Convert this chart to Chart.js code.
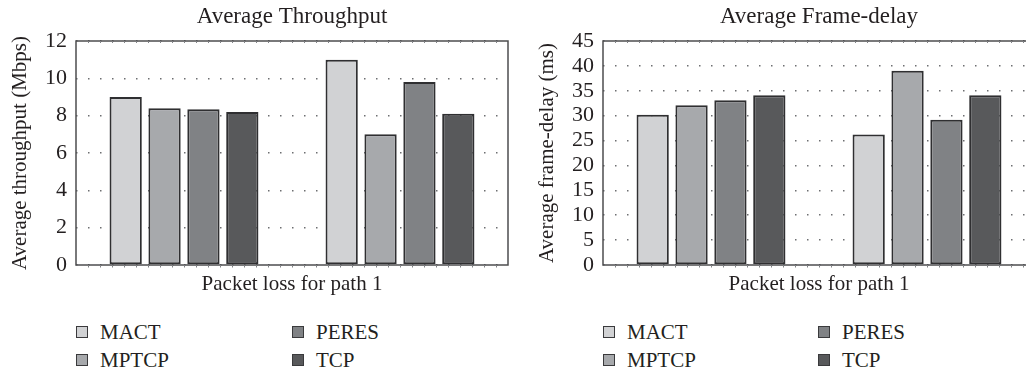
<!DOCTYPE html>
<html lang="en">
<head>
  <meta charset="UTF-8">
  <title>Throughput and frame-delay</title>
  <script src="https://cdn.jsdelivr.net/npm/chart.js"></script>
  <style>
    body {
      margin: 0;
      width: 1026px;
      height: 372px;
      overflow: hidden;
      background: #fff;
      position: relative;
      font-family: "Liberation Serif", "DejaVu Serif", serif;
      color: #231f20;
    }
    canvas {
      position: absolute;
      top: 0;
    }
    #throughputChart { left: 0; }
    #delayChart { left: 520px; }
    .legend-item {
      position: absolute;
      display: flex;
      align-items: center;
      height: 22px;
      font-size: 21px;
      white-space: nowrap;
    }
    .legend-box {
      width: 10px;
      height: 10px;
      border: 1.5px solid #3a3a3c;
      margin-right: 12px;
    }
  </style>
</head>
<body>
  <canvas id="throughputChart" width="520" height="300"></canvas>
  <canvas id="delayChart" width="527" height="300"></canvas>
  <div id="legends"></div>

  <script>
    // two groups along the x axis, no tick labels shown in the original
    const groups = ['', ''];
    const protocols = ['MACT', 'MPTCP', 'PERES', 'TCP'];
    const fills = ['#d1d2d4', '#a7a9ac', '#808285', '#58595b'];

    // Average throughput (Mbps)
    const throughputMACT = [9.0, 11.0];
    const throughputMPTCP = [8.4, 7.0];
    const throughputPERES = [8.35, 9.8];
    const throughputTCP = [8.2, 8.1];

    // Average frame-delay (ms)
    const delayMACT = [30.2, 26.2];
    const delayMPTCP = [32.1, 39.0];
    const delayPERES = [33.1, 29.2];
    const delayTCP = [34.1, 34.1];

    const FONT = '"Liberation Serif", "DejaVu Serif", serif';
    const INK = '#231f20';

    // box round the plot area, drawn over the bars, with small marks on top/bottom edges
    const frame = {
      id: 'frame',
      afterDatasetsDraw(chart) {
        const a = chart.chartArea;
        const ctx = chart.ctx;
        ctx.save();
        ctx.strokeStyle = '#4d4d4f';
        ctx.lineWidth = 1.5;
        ctx.strokeRect(a.left, a.top, a.right - a.left, a.bottom - a.top);
        ctx.lineWidth = 1;
        ctx.strokeStyle = '#808285';
        ctx.beginPath();
        for (let x = a.left + 12; x < a.right; x += 12) {
          ctx.moveTo(x + 0.5, a.bottom);
          ctx.lineTo(x + 0.5, a.bottom + 2.5);
          ctx.moveTo(x + 0.5, a.top);
          ctx.lineTo(x + 0.5, a.top + 2);
        }
        ctx.stroke();
        ctx.restore();
      }
    };

    function makeChart(id, cfg) {
      const datasets = cfg.series.map((data, i) => ({
        label: protocols[i],
        data,
        backgroundColor: fills[i],
        borderColor: '#2f2f31',
        borderWidth: 2,
        borderSkipped: false,
        categoryPercentage: 0.72,
        barPercentage: 0.83
      }));

      return new Chart(document.getElementById(id), {
        type: 'bar',
        data: { labels: groups, datasets },
        options: {
          responsive: false,
          animation: false,
          devicePixelRatio: 1,
          layout: { padding: { left: 0, right: 12, top: 0, bottom: 0 } },
          plugins: {
            legend: { display: false },
            tooltip: { enabled: false },
            title: {
              display: true,
              text: cfg.title,
              fullSize: false,
              color: INK,
              font: { family: FONT, size: 23, weight: 'normal' },
              padding: { top: 3, bottom: 10.4 }
            }
          },
          scales: {
            x: {
              grid: { display: false, drawTicks: false },
              border: { display: false },
              ticks: { display: false },
              title: {
                display: true,
                text: 'Packet loss for path 1',
                color: INK,
                font: { family: FONT, size: 21 },
                padding: { top: 0, bottom: 2.5 }
              },
              afterFit(scale) { scale.height = 35; }
            },
            y: {
              min: 0,
              max: cfg.max,
              ticks: {
                stepSize: cfg.step,
                autoSkip: false,
                color: INK,
                padding: 9,
                font: { family: FONT, size: 22 }
              },
              grid: {
                color: '#6d6e71',
                lineWidth: 1.5,
                drawTicks: false
              },
              border: { display: false, dash: [1.5, 10.5] },
              title: {
                display: true,
                text: cfg.yTitle,
                color: INK,
                font: { family: FONT, size: 21 },
                padding: { top: cfg.yTitlePad, bottom: 0 }
              },
              afterFit(scale) { scale.width = cfg.yWidth; }
            }
          }
        },
        plugins: [frame]
      });
    }

    makeChart('throughputChart', {
      title: 'Average Throughput',
      yTitle: 'Average throughput (Mbps)',
      series: [throughputMACT, throughputMPTCP, throughputPERES, throughputTCP],
      max: 12, step: 2, yWidth: 76, yTitlePad: 7.4
    });

    makeChart('delayChart', {
      title: 'Average Frame-delay',
      yTitle: 'Average frame-delay (ms)',
      series: [delayMACT, delayMPTCP, delayPERES, delayTCP],
      max: 45, step: 5, yWidth: 83, yTitlePad: 14.4
    });

    // legends: two columns, MACT/MPTCP then PERES/TCP
    const legendSpots = [
      { cols: [76, 292] },
      { cols: [603, 818] }
    ];
    const rows = [321, 349];
    const holder = document.getElementById('legends');
    legendSpots.forEach(spot => {
      protocols.forEach((name, i) => {
        const col = Math.floor(i / 2), row = i % 2;
        const item = document.createElement('div');
        item.className = 'legend-item';
        item.style.left = spot.cols[col] + 'px';
        item.style.top = rows[row] + 'px';
        item.innerHTML = '<span class="legend-box" style="background:' + fills[i] + '"></span>' + name;
        holder.appendChild(item);
      });
    });
  </script>
</body>
</html>
